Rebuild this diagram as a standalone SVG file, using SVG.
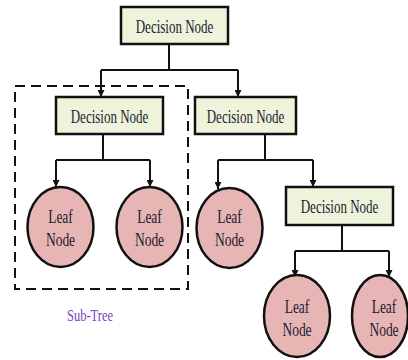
<svg xmlns="http://www.w3.org/2000/svg" width="408" height="360" viewBox="0 0 408 360">
  <defs>
    <marker id="arrow" viewBox="0 0 10 10" refX="10" refY="5" markerWidth="7" markerHeight="7" markerUnits="userSpaceOnUse" orient="auto">
      <path d="M0,0 L10,5 L0,10 z" fill="#111"/>
    </marker>
    <style>
      .decision rect { fill: #eef3dc; stroke: #111; stroke-width: 2.5; }
      .leaf ellipse { fill: #e8b5b5; stroke: #111; stroke-width: 2.5; }
      text { font-family: "Liberation Serif", "Times New Roman", serif; font-size: 13px; fill: #1c1c30; text-anchor: middle; }
      .leaf text { font-size: 13.5px; }
      .conn { fill: none; stroke: #111; stroke-width: 2; }
      .subtree { fill: none; stroke: #111; stroke-width: 2; stroke-dasharray: 10 6; }
      .label { fill: #7b3fc4; font-size: 12.5px; }
    </style>
  </defs>

  <!-- dashed frame around the left subtree -->
  <g id="subtree-frame">
    <rect class="subtree" x="15" y="86" width="173" height="203"/>
    <text class="label" transform="translate(90,321) scale(1,1.35)">Sub-Tree</text>
  </g>

  <g id="connectors">
    <!-- root to first level -->
    <path class="conn" d="M169,44 V70"/>
    <path class="conn" d="M101,70 H238"/>
    <path class="conn" d="M101,70 V97" marker-end="url(#arrow)"/>
    <path class="conn" d="M238,70 V97" marker-end="url(#arrow)"/>
    <!-- left decision to its leaves -->
    <path class="conn" d="M103,134 V160"/>
    <path class="conn" d="M56,160 H150"/>
    <path class="conn" d="M56,160 V187" marker-end="url(#arrow)"/>
    <path class="conn" d="M150,160 V187" marker-end="url(#arrow)"/>
    <!-- right decision to leaf and decision -->
    <path class="conn" d="M265,134 V160"/>
    <path class="conn" d="M218,160 H313"/>
    <path class="conn" d="M218,160 V189" marker-end="url(#arrow)"/>
    <path class="conn" d="M313,160 V187" marker-end="url(#arrow)"/>
    <!-- lower decision to its leaves -->
    <path class="conn" d="M342,225 V251"/>
    <path class="conn" d="M295,251 H389"/>
    <path class="conn" d="M295,251 V277" marker-end="url(#arrow)"/>
    <path class="conn" d="M389,251 V277" marker-end="url(#arrow)"/>
  </g>

  <g id="decision-root" class="decision">
    <rect x="121" y="7" width="107" height="37"/>
    <text transform="translate(174.5,33) scale(1,1.4)">Decision Node</text>
  </g>
  <g id="decision-left" class="decision">
    <rect x="56" y="97" width="107" height="37"/>
    <text transform="translate(109.5,123) scale(1,1.4)">Decision Node</text>
  </g>
  <g id="decision-right" class="decision">
    <rect x="195" y="97" width="101" height="37"/>
    <text transform="translate(245.5,123) scale(1,1.4)">Decision Node</text>
  </g>
  <g id="decision-lower" class="decision">
    <rect x="286" y="187" width="107" height="38"/>
    <text transform="translate(339.5,213) scale(1,1.4)">Decision Node</text>
  </g>

  <g id="leaf-1" class="leaf">
    <ellipse cx="60.5" cy="227" rx="33" ry="40"/>
    <text transform="translate(60.5,223) scale(1,1.4)">Leaf</text>
    <text transform="translate(60.5,246) scale(1,1.4)">Node</text>
  </g>
  <g id="leaf-2" class="leaf">
    <ellipse cx="149.5" cy="227" rx="33" ry="40"/>
    <text transform="translate(149.5,223) scale(1,1.4)">Leaf</text>
    <text transform="translate(149.5,246) scale(1,1.4)">Node</text>
  </g>
  <g id="leaf-3" class="leaf">
    <ellipse cx="229.5" cy="228" rx="33" ry="40"/>
    <text transform="translate(229.5,223) scale(1,1.4)">Leaf</text>
    <text transform="translate(229.5,246) scale(1,1.4)">Node</text>
  </g>
  <g id="leaf-4" class="leaf">
    <ellipse cx="297" cy="316" rx="33" ry="41"/>
    <text transform="translate(297,313) scale(1,1.4)">Leaf</text>
    <text transform="translate(297,336) scale(1,1.4)">Node</text>
  </g>
  <g id="leaf-5" class="leaf">
    <ellipse cx="380" cy="316" rx="28" ry="41"/>
    <text transform="translate(384,313) scale(1,1.4)">Leaf</text>
    <text transform="translate(384,336) scale(1,1.4)">Node</text>
  </g>
</svg>
